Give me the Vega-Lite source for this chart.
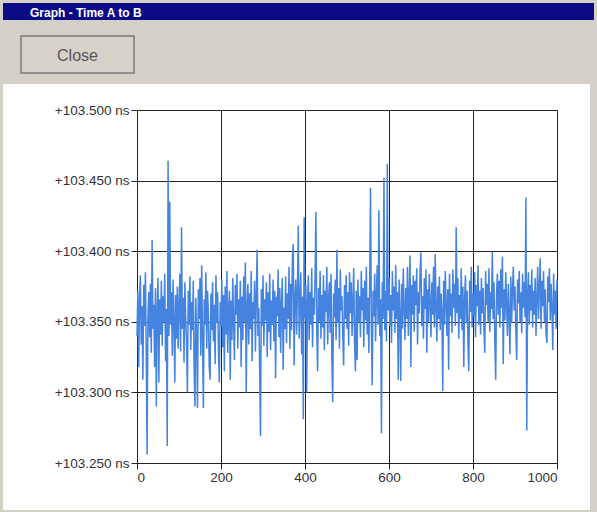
{
"$schema": "https://vega.github.io/schema/vega-lite/v6.json",
"padding": {"left": 3, "top": 3, "right": 3, "bottom": 4},
"background": "#d4d0c8",
"spacing": 10,
"config": {
  "font": "Liberation Sans",
  "axis": {"domainColor": "#222222", "tickColor": "#222222", "gridColor": "#222222", "gridOpacity": 1, "gridWidth": 1, "tickSize": 6, "labelColor": "#333333", "labelFontSize": 13.5, "labelFont": "Liberation Sans", "zindex": 1}
},
"vconcat": [
 {"spacing": 15, "vconcat": [
   {"width": 591, "height": 17, "view": {"fill": "#0a0a84", "stroke": null},
    "title": {"text": "Graph - Time A to B", "anchor": "start", "frame": "group", "offset": -17, "dx": 27, "color": "#ffffff", "fontSize": 12, "fontWeight": "bold", "font": "Liberation Sans"},
    "data": {"values": []}, "mark": "point", "encoding": {}},
   {"spacing": 0, "hconcat": [
     {"width": 17, "height": 37, "view": {"fill": null, "stroke": null},
      "data": {"values": []}, "mark": "point", "encoding": {}},
     {"width": 113, "height": 37, "view": {"fill": "#d6d2ca", "stroke": "#7a7a7a", "strokeWidth": 1.5},
      "title": {"text": "Close", "anchor": "middle", "frame": "group", "offset": -28, "color": "#555555", "fontSize": 16, "fontWeight": "normal", "font": "Liberation Sans"},
      "data": {"values": []}, "mark": "point", "encoding": {}}
   ]}
 ]},
 {"width": 587, "height": 426,
  "view": {"stroke": null, "fill": "#ffffff"},
  "data": {"values": [
{"i":0,"ns":103.340},{"i":2,"ns":103.372},{"i":4,"ns":103.318},{"i":6,"ns":103.365},{"i":8,"ns":103.383},{"i":10,"ns":103.334},{"i":12,"ns":103.361},{"i":14,"ns":103.309},{"i":16,"ns":103.376},{"i":18,"ns":103.347},
{"i":20,"ns":103.385},{"i":22,"ns":103.330},{"i":24,"ns":103.256},{"i":26,"ns":103.352},{"i":28,"ns":103.371},{"i":30,"ns":103.339},{"i":32,"ns":103.377},{"i":34,"ns":103.328},{"i":36,"ns":103.408},{"i":38,"ns":103.345},
{"i":40,"ns":103.362},{"i":42,"ns":103.318},{"i":44,"ns":103.374},{"i":46,"ns":103.290},{"i":48,"ns":103.358},{"i":50,"ns":103.381},{"i":52,"ns":103.307},{"i":54,"ns":103.366},{"i":56,"ns":103.341},{"i":58,"ns":103.379},
{"i":60,"ns":103.333},{"i":62,"ns":103.368},{"i":64,"ns":103.350},{"i":66,"ns":103.384},{"i":68,"ns":103.322},{"i":70,"ns":103.359},{"i":72,"ns":103.262},{"i":74,"ns":103.464},{"i":76,"ns":103.340},{"i":78,"ns":103.435},
{"i":80,"ns":103.348},{"i":82,"ns":103.371},{"i":84,"ns":103.326},{"i":86,"ns":103.380},{"i":88,"ns":103.352},{"i":90,"ns":103.307},{"i":92,"ns":103.369},{"i":94,"ns":103.338},{"i":96,"ns":103.375},{"i":98,"ns":103.331},
{"i":100,"ns":103.362},{"i":102,"ns":103.384},{"i":104,"ns":103.329},{"i":106,"ns":103.417},{"i":108,"ns":103.345},{"i":110,"ns":103.367},{"i":112,"ns":103.321},{"i":114,"ns":103.378},{"i":116,"ns":103.352},{"i":118,"ns":103.336},
{"i":120,"ns":103.300},{"i":122,"ns":103.372},{"i":124,"ns":103.348},{"i":126,"ns":103.382},{"i":128,"ns":103.330},{"i":130,"ns":103.364},{"i":132,"ns":103.344},{"i":134,"ns":103.379},{"i":136,"ns":103.317},{"i":138,"ns":103.290},
{"i":140,"ns":103.367},{"i":142,"ns":103.339},{"i":144,"ns":103.289},{"i":146,"ns":103.373},{"i":148,"ns":103.352},{"i":150,"ns":103.381},{"i":152,"ns":103.326},{"i":154,"ns":103.390},{"i":156,"ns":103.340},{"i":158,"ns":103.289},
{"i":160,"ns":103.366},{"i":162,"ns":103.348},{"i":164,"ns":103.385},{"i":166,"ns":103.331},{"i":168,"ns":103.372},{"i":170,"ns":103.355},{"i":172,"ns":103.318},{"i":174,"ns":103.309},{"i":176,"ns":103.370},{"i":178,"ns":103.344},
{"i":180,"ns":103.378},{"i":182,"ns":103.336},{"i":184,"ns":103.362},{"i":186,"ns":103.320},{"i":188,"ns":103.383},{"i":190,"ns":103.349},{"i":192,"ns":103.371},{"i":194,"ns":103.328},{"i":196,"ns":103.307},{"i":198,"ns":103.364},
{"i":200,"ns":103.347},{"i":202,"ns":103.380},{"i":204,"ns":103.332},{"i":206,"ns":103.369},{"i":208,"ns":103.315},{"i":210,"ns":103.375},{"i":212,"ns":103.341},{"i":214,"ns":103.386},{"i":216,"ns":103.328},{"i":218,"ns":103.358},
{"i":220,"ns":103.372},{"i":222,"ns":103.309},{"i":224,"ns":103.365},{"i":226,"ns":103.337},{"i":228,"ns":103.381},{"i":230,"ns":103.349},{"i":232,"ns":103.323},{"i":234,"ns":103.376},{"i":236,"ns":103.355},{"i":238,"ns":103.384},
{"i":240,"ns":103.331},{"i":242,"ns":103.366},{"i":244,"ns":103.346},{"i":246,"ns":103.379},{"i":248,"ns":103.318},{"i":250,"ns":103.368},{"i":252,"ns":103.337},{"i":254,"ns":103.382},{"i":256,"ns":103.350},{"i":258,"ns":103.392},
{"i":260,"ns":103.300},{"i":262,"ns":103.361},{"i":264,"ns":103.377},{"i":266,"ns":103.334},{"i":268,"ns":103.370},{"i":270,"ns":103.345},{"i":272,"ns":103.386},{"i":274,"ns":103.322},{"i":276,"ns":103.364},{"i":278,"ns":103.352},
{"i":280,"ns":103.379},{"i":282,"ns":103.329},{"i":284,"ns":103.368},{"i":286,"ns":103.401},{"i":288,"ns":103.340},{"i":290,"ns":103.360},{"i":292,"ns":103.318},{"i":294,"ns":103.269},{"i":296,"ns":103.373},{"i":298,"ns":103.347},
{"i":300,"ns":103.383},{"i":302,"ns":103.333},{"i":304,"ns":103.366},{"i":306,"ns":103.351},{"i":308,"ns":103.378},{"i":310,"ns":103.325},{"i":312,"ns":103.371},{"i":314,"ns":103.343},{"i":316,"ns":103.384},{"i":318,"ns":103.330},
{"i":320,"ns":103.365},{"i":322,"ns":103.348},{"i":324,"ns":103.380},{"i":326,"ns":103.336},{"i":328,"ns":103.372},{"i":330,"ns":103.310},{"i":332,"ns":103.368},{"i":334,"ns":103.354},{"i":336,"ns":103.387},{"i":338,"ns":103.339},
{"i":340,"ns":103.374},{"i":342,"ns":103.328},{"i":344,"ns":103.363},{"i":346,"ns":103.381},{"i":348,"ns":103.316},{"i":350,"ns":103.360},{"i":352,"ns":103.345},{"i":354,"ns":103.382},{"i":356,"ns":103.335},{"i":358,"ns":103.370},
{"i":360,"ns":103.352},{"i":362,"ns":103.389},{"i":364,"ns":103.331},{"i":366,"ns":103.377},{"i":368,"ns":103.344},{"i":370,"ns":103.395},{"i":372,"ns":103.405},{"i":374,"ns":103.319},{"i":376,"ns":103.366},{"i":378,"ns":103.380},
{"i":380,"ns":103.341},{"i":382,"ns":103.372},{"i":384,"ns":103.418},{"i":386,"ns":103.338},{"i":388,"ns":103.363},{"i":390,"ns":103.385},{"i":392,"ns":103.327},{"i":394,"ns":103.368},{"i":396,"ns":103.281},{"i":398,"ns":103.424},
{"i":400,"ns":103.352},{"i":402,"ns":103.376},{"i":404,"ns":103.300},{"i":406,"ns":103.365},{"i":408,"ns":103.383},{"i":410,"ns":103.337},{"i":412,"ns":103.371},{"i":414,"ns":103.348},{"i":416,"ns":103.388},{"i":418,"ns":103.332},
{"i":420,"ns":103.367},{"i":422,"ns":103.355},{"i":424,"ns":103.381},{"i":426,"ns":103.428},{"i":428,"ns":103.343},{"i":430,"ns":103.315},{"i":432,"ns":103.374},{"i":434,"ns":103.350},{"i":436,"ns":103.386},{"i":438,"ns":103.338},
{"i":440,"ns":103.369},{"i":442,"ns":103.346},{"i":444,"ns":103.383},{"i":446,"ns":103.330},{"i":448,"ns":103.372},{"i":450,"ns":103.357},{"i":452,"ns":103.389},{"i":454,"ns":103.334},{"i":456,"ns":103.365},{"i":458,"ns":103.378},
{"i":460,"ns":103.342},{"i":462,"ns":103.384},{"i":464,"ns":103.324},{"i":466,"ns":103.293},{"i":468,"ns":103.370},{"i":470,"ns":103.353},{"i":472,"ns":103.380},{"i":474,"ns":103.337},{"i":476,"ns":103.401},{"i":478,"ns":103.349},
{"i":480,"ns":103.374},{"i":482,"ns":103.331},{"i":484,"ns":103.387},{"i":486,"ns":103.358},{"i":488,"ns":103.368},{"i":490,"ns":103.340},{"i":492,"ns":103.319},{"i":494,"ns":103.376},{"i":496,"ns":103.352},{"i":498,"ns":103.383},
{"i":500,"ns":103.345},{"i":502,"ns":103.371},{"i":504,"ns":103.333},{"i":506,"ns":103.385},{"i":508,"ns":103.356},{"i":510,"ns":103.378},{"i":512,"ns":103.340},{"i":514,"ns":103.366},{"i":516,"ns":103.388},{"i":518,"ns":103.336},
{"i":520,"ns":103.315},{"i":522,"ns":103.372},{"i":524,"ns":103.323},{"i":526,"ns":103.380},{"i":528,"ns":103.350},{"i":530,"ns":103.368},{"i":532,"ns":103.339},{"i":534,"ns":103.386},{"i":536,"ns":103.358},{"i":538,"ns":103.374},
{"i":540,"ns":103.332},{"i":542,"ns":103.379},{"i":544,"ns":103.351},{"i":546,"ns":103.389},{"i":548,"ns":103.341},{"i":550,"ns":103.367},{"i":552,"ns":103.328},{"i":554,"ns":103.377},{"i":556,"ns":103.445},{"i":558,"ns":103.346},
{"i":560,"ns":103.305},{"i":562,"ns":103.372},{"i":564,"ns":103.354},{"i":566,"ns":103.384},{"i":568,"ns":103.336},{"i":570,"ns":103.370},{"i":572,"ns":103.390},{"i":574,"ns":103.348},{"i":576,"ns":103.429},{"i":578,"ns":103.340},
{"i":580,"ns":103.366},{"i":582,"ns":103.271},{"i":584,"ns":103.378},{"i":586,"ns":103.352},{"i":588,"ns":103.452},{"i":590,"ns":103.344},{"i":592,"ns":103.372},{"i":594,"ns":103.336},{"i":596,"ns":103.462},{"i":598,"ns":103.358},
{"i":600,"ns":103.381},{"i":602,"ns":103.347},{"i":604,"ns":103.369},{"i":606,"ns":103.335},{"i":608,"ns":103.386},{"i":610,"ns":103.358},{"i":612,"ns":103.375},{"i":614,"ns":103.342},{"i":616,"ns":103.390},{"i":618,"ns":103.352},
{"i":620,"ns":103.371},{"i":622,"ns":103.309},{"i":624,"ns":103.380},{"i":626,"ns":103.356},{"i":628,"ns":103.308},{"i":630,"ns":103.377},{"i":632,"ns":103.345},{"i":634,"ns":103.388},{"i":636,"ns":103.361},{"i":638,"ns":103.337},
{"i":640,"ns":103.374},{"i":642,"ns":103.352},{"i":644,"ns":103.389},{"i":646,"ns":103.340},{"i":648,"ns":103.368},{"i":650,"ns":103.397},{"i":652,"ns":103.318},{"i":654,"ns":103.376},{"i":656,"ns":103.355},{"i":658,"ns":103.383},
{"i":660,"ns":103.343},{"i":662,"ns":103.379},{"i":664,"ns":103.362},{"i":666,"ns":103.388},{"i":668,"ns":103.334},{"i":670,"ns":103.371},{"i":672,"ns":103.356},{"i":674,"ns":103.386},{"i":676,"ns":103.399},{"i":678,"ns":103.347},
{"i":680,"ns":103.368},{"i":682,"ns":103.338},{"i":684,"ns":103.381},{"i":686,"ns":103.359},{"i":688,"ns":103.387},{"i":690,"ns":103.328},{"i":692,"ns":103.373},{"i":694,"ns":103.350},{"i":696,"ns":103.384},{"i":698,"ns":103.362},
{"i":700,"ns":103.339},{"i":702,"ns":103.378},{"i":704,"ns":103.355},{"i":706,"ns":103.389},{"i":708,"ns":103.346},{"i":710,"ns":103.398},{"i":712,"ns":103.360},{"i":714,"ns":103.336},{"i":716,"ns":103.375},{"i":718,"ns":103.352},
{"i":720,"ns":103.382},{"i":722,"ns":103.344},{"i":724,"ns":103.370},{"i":726,"ns":103.357},{"i":728,"ns":103.301},{"i":730,"ns":103.379},{"i":732,"ns":103.348},{"i":734,"ns":103.386},{"i":736,"ns":103.363},{"i":738,"ns":103.340},
{"i":740,"ns":103.373},{"i":742,"ns":103.316},{"i":744,"ns":103.384},{"i":746,"ns":103.354},{"i":748,"ns":103.370},{"i":750,"ns":103.342},{"i":752,"ns":103.387},{"i":754,"ns":103.360},{"i":756,"ns":103.377},{"i":758,"ns":103.347},
{"i":760,"ns":103.417},{"i":762,"ns":103.356},{"i":764,"ns":103.381},{"i":766,"ns":103.338},{"i":768,"ns":103.369},{"i":770,"ns":103.352},{"i":772,"ns":103.388},{"i":774,"ns":103.344},{"i":776,"ns":103.375},{"i":778,"ns":103.318},
{"i":780,"ns":103.366},{"i":782,"ns":103.383},{"i":784,"ns":103.349},{"i":786,"ns":103.372},{"i":788,"ns":103.335},{"i":790,"ns":103.315},{"i":792,"ns":103.379},{"i":794,"ns":103.357},{"i":796,"ns":103.389},{"i":798,"ns":103.346},
{"i":800,"ns":103.370},{"i":802,"ns":103.354},{"i":804,"ns":103.385},{"i":806,"ns":103.339},{"i":808,"ns":103.376},{"i":810,"ns":103.361},{"i":812,"ns":103.390},{"i":814,"ns":103.348},{"i":816,"ns":103.372},{"i":818,"ns":103.341},
{"i":820,"ns":103.381},{"i":822,"ns":103.356},{"i":824,"ns":103.374},{"i":826,"ns":103.345},{"i":828,"ns":103.328},{"i":830,"ns":103.386},{"i":832,"ns":103.362},{"i":834,"ns":103.377},{"i":836,"ns":103.350},{"i":838,"ns":103.388},
{"i":840,"ns":103.343},{"i":842,"ns":103.371},{"i":844,"ns":103.359},{"i":846,"ns":103.400},{"i":848,"ns":103.352},{"i":850,"ns":103.378},{"i":852,"ns":103.337},{"i":854,"ns":103.309},{"i":856,"ns":103.369},{"i":858,"ns":103.384},
{"i":860,"ns":103.355},{"i":862,"ns":103.379},{"i":864,"ns":103.346},{"i":866,"ns":103.387},{"i":868,"ns":103.360},{"i":870,"ns":103.396},{"i":872,"ns":103.320},{"i":874,"ns":103.373},{"i":876,"ns":103.351},{"i":878,"ns":103.385},
{"i":880,"ns":103.362},{"i":882,"ns":103.340},{"i":884,"ns":103.377},{"i":886,"ns":103.356},{"i":888,"ns":103.327},{"i":890,"ns":103.382},{"i":892,"ns":103.349},{"i":894,"ns":103.372},{"i":896,"ns":103.389},{"i":898,"ns":103.358},
{"i":900,"ns":103.375},{"i":902,"ns":103.344},{"i":904,"ns":103.323},{"i":906,"ns":103.380},{"i":908,"ns":103.363},{"i":910,"ns":103.386},{"i":912,"ns":103.350},{"i":914,"ns":103.371},{"i":916,"ns":103.342},{"i":918,"ns":103.384},
{"i":920,"ns":103.360},{"i":922,"ns":103.378},{"i":924,"ns":103.353},{"i":926,"ns":103.438},{"i":928,"ns":103.273},{"i":930,"ns":103.369},{"i":932,"ns":103.385},{"i":934,"ns":103.348},{"i":936,"ns":103.376},{"i":938,"ns":103.358},
{"i":940,"ns":103.387},{"i":942,"ns":103.346},{"i":944,"ns":103.372},{"i":946,"ns":103.355},{"i":948,"ns":103.381},{"i":950,"ns":103.340},{"i":952,"ns":103.368},{"i":954,"ns":103.389},{"i":956,"ns":103.352},{"i":958,"ns":103.374},
{"i":960,"ns":103.395},{"i":962,"ns":103.345},{"i":964,"ns":103.379},{"i":966,"ns":103.361},{"i":968,"ns":103.386},{"i":970,"ns":103.350},{"i":972,"ns":103.373},{"i":974,"ns":103.342},{"i":976,"ns":103.335},{"i":978,"ns":103.382},
{"i":980,"ns":103.364},{"i":982,"ns":103.388},{"i":984,"ns":103.351},{"i":986,"ns":103.377},{"i":988,"ns":103.359},{"i":990,"ns":103.330},{"i":992,"ns":103.384},{"i":994,"ns":103.355},{"i":996,"ns":103.372},{"i":998,"ns":103.345},
{"i":1000,"ns":103.380}
  ]},
  "mark": {"type": "line", "color": "#4483e0", "strokeWidth": 1.5, "clip": true},
  "encoding": {
    "x": {"field": "i", "type": "quantitative", "scale": {"domain": [0, 1000], "range": [134, 554], "nice": false, "zero": false},
          "axis": {"orient": "top", "values": [0, 200, 400, 600, 800, 1000], "format": "d", "title": null, "grid": true, "tickSize": -6, "labelPadding": -1, "labelBaseline": "top", "offset": -379, "minExtent": 0, "labelOverlap": false}},
    "y": {"field": "ns", "type": "quantitative", "scale": {"domain": [103.25, 103.5], "range": [379, 26], "nice": false, "zero": false},
          "axis": {"values": [103.25, 103.3, 103.35, 103.4, 103.45, 103.5], "title": null, "grid": true, "labelPadding": 2, "offset": -134, "minExtent": 0, "labelOverlap": false,
                   "labelExpr": "'+' + format(datum.value, '.3f') + ' ns'"}}
  }
 }
]
}
